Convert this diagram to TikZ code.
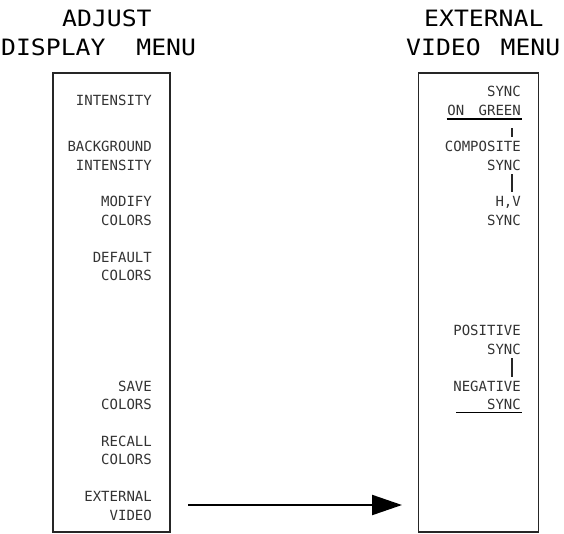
\documentclass[tikz,border=0pt]{standalone}
\usepackage{fontspec}
\usetikzlibrary{arrows.meta}
\newfontfamily\titlefont[FakeStretch=1.1]{DejaVu Sans Mono}
\newfontfamily\itemfont{DejaVu Sans Mono}
\tikzset{
  menubox/.style={draw=black!85, line width=1.3pt, inner sep=0pt},
  title/.style={font=\titlefont\fontsize{22.5}{24}\selectfont, anchor=base west, inner sep=0pt, text=black},
  item/.style={font=\itemfont\fontsize{14}{16}\selectfont, anchor=base east, inner sep=0pt, text=black!80},
  rule/.style={line width=1.3pt, draw=black},
  tick/.style={line width=1.8pt, draw=black!85},
  bigarrow/.style={line width=2.2pt, -{Triangle[length=30pt,width=20pt]}}
}
\begin{document}
\begin{tikzpicture}[x=1pt,y=-1pt]
\useasboundingbox (0,0) rectangle (564,533);
% titles
\node[title] (t1) at (62,26) {ADJUST};
\node[title] (t2) at (1,55) {DISPLAY\hspace{16pt} MENU};
\node[title] (t3) at (424,26) {EXTERNAL};
\node[title] (t4) at (406,55) {VIDEO\hspace{5pt} MENU};
% boxes
\draw[menubox] (53,73) rectangle (170,532);
\node[inner sep=0pt, minimum width=0pt] (lbox) at (111.5,302.5) {};
\draw[menubox] (418.5,73) rectangle (538.5,532);
\node[inner sep=0pt] (rbox) at (478.5,302.5) {};
% left items
\node[item] (l1) at (152,105.7) {INTENSITY};
\node[item] (l2a) at (152,151.7) {BACKGROUND};
\node[item] (l2b) at (152,170) {INTENSITY};
\node[item] (l3a) at (152,206.7) {MODIFY};
\node[item] (l3b) at (152,225) {COLORS};
\node[item] (l4a) at (152,262) {DEFAULT};
\node[item] (l4b) at (152,280.7) {COLORS};
\node[item] (l6a) at (152,391) {SAVE};
\node[item] (l6b) at (152,409.3) {COLORS};
\node[item] (l7a) at (152,446) {RECALL};
\node[item] (l7b) at (152,464.3) {COLORS};
\node[item] (l8a) at (152,501.7) {EXTERNAL};
\node[item] (l8b) at (152,520) {VIDEO};
% right items
\node[item] (r1a) at (521,96.7) {SYNC};
\node[item] (r1b) at (521,115) {ON\hspace{6pt} GREEN};
\node[item] (r2a) at (521,151.7) {COMPOSITE};
\node[item] (r2b) at (521,170) {SYNC};
\node[item] (r3a) at (521,206.7) {H,V};
\node[item] (r3b) at (521,225) {SYNC};
\node[item] (r5a) at (521,335.7) {POSITIVE};
\node[item] (r5b) at (521,354) {SYNC};
\node[item] (r6a) at (521,391) {NEGATIVE};
\node[item] (r6b) at (521,409.3) {SYNC};
% underlines and ticks
\coordinate (u1a) at (446.7,119);
\coordinate (u1b) at (521.7,119);
\draw[rule] (u1a) -- (u1b);
\coordinate (u2a) at (456,412.7);
\coordinate (u2b) at (521.7,412.7);
\draw[rule] (u2a) -- (u2b);
\coordinate (k1a) at (511.7,128.3);
\coordinate (k1b) at (511.7,137.3);
\draw[tick] (k1a) -- (k1b);
\coordinate (k2a) at (511.7,174.3);
\coordinate (k2b) at (511.7,192.3);
\draw[tick] (k2a) -- (k2b);
\coordinate (k3a) at (511.7,358.3);
\coordinate (k3b) at (511.7,376.7);
\draw[tick] (k3a) -- (k3b);
% arrow
\coordinate (aS) at (188,505);
\coordinate (aE) at (402,505);
\draw[bigarrow] (aS) -- (aE);
\end{tikzpicture}
\end{document}
